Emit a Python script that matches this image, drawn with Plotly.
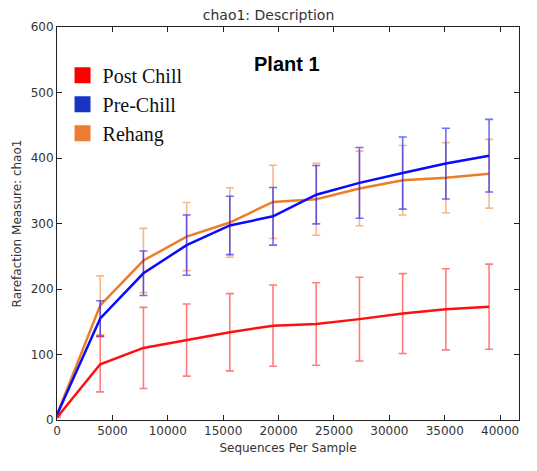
import plotly.graph_objects as go
import math

depth = [0, 3900, 7800, 11700, 15600, 19500, 23400, 27300, 31200, 35100, 39000]

post_chill = [4, 85, 110, 122, 134, 144, 146.5, 154, 162.5, 169, 173]
post_chill_err = [math.nan, 42, 62, 55, 59, 62, 63, 64, 61, 62, 65]

pre_chill = [8, 155, 224, 267, 297, 311, 344, 362, 377, 391.5, 403.5]
pre_chill_err = [math.nan, 27, 34, 46, 44.5, 44, 44.5, 54, 55, 54, 55.5]

rehang = [8, 175, 243.5, 280, 301.5, 333, 337, 353.5, 366, 370, 376]
rehang_err = [math.nan, 45, 49, 52, 53, 56, 55, 57, 53, 53.5, 52.5]

x_ticks = [0, 5000, 10000, 15000, 20000, 25000, 30000, 35000, 40000]
x_ticktext = [str(v) for v in x_ticks]
y_ticks = [0, 100, 200, 300, 400, 500, 600]

series = [
    ("Rehang", rehang, rehang_err, "#ee7d28", "rgba(238,125,40,0.55)"),
    ("Pre-Chill", pre_chill, pre_chill_err, "#0a0aff", "rgba(10,10,255,0.6)"),
    ("Post Chill", post_chill, post_chill_err, "#ff1010", "rgba(255,16,16,0.55)"),
]
legend_colors = {"Post Chill": "#ff0000", "Pre-Chill": "#1a35c4", "Rehang": "#ed7d31"}

fig = go.Figure()
for name, ys, errs, lc, ec in series:
    fig.add_trace(go.Scatter(
        x=depth, y=ys, mode="lines", name=name, showlegend=False,
        line=dict(color=lc, width=2.5),
        error_y=dict(type="data", array=errs, visible=True, color=ec,
                     thickness=1.6, width=4),
    ))

for name in ["Post Chill", "Pre-Chill", "Rehang"]:
    fig.add_trace(go.Scatter(
        x=[None], y=[None], mode="markers", name=name,
        marker=dict(symbol="square", size=16, color=legend_colors[name]),
    ))

axis_common = dict(
    showgrid=False, zeroline=False, showline=True, linecolor="#222",
    linewidth=1, mirror="ticks", ticks="inside", ticklen=5,
    tickcolor="#222", tickfont=dict(family="DejaVu Sans", size=12, color="#333"),
)

fig.update_layout(
    width=537, height=471,
    margin=dict(l=57, r=18, t=27, b=51),
    paper_bgcolor="white", plot_bgcolor="white",
    title=dict(text="chao1: Description", x=0.5, xanchor="center",
               y=1 - 15 / 471, yanchor="middle",
               font=dict(family="DejaVu Sans", size=14, color="#333")),
    xaxis=dict(range=[0, 41700], tickvals=x_ticks, ticktext=x_ticktext,
               title=dict(text="Sequences Per Sample", standoff=6,
                          font=dict(family="DejaVu Sans", size=12, color="#333")),
               **axis_common),
    yaxis=dict(range=[0, 600], tickvals=y_ticks,
               title=dict(text="Rarefaction Measure: chao1", standoff=6,
                          font=dict(family="DejaVu Sans", size=12, color="#333")),
               **axis_common),
    legend=dict(x=0.012, y=0.927, xanchor="left", yanchor="top",
                bgcolor="rgba(0,0,0,0)", tracegroupgap=0,
                font=dict(family="Liberation Serif", size=20, color="#111")),
    annotations=[dict(text="<b>Plant 1</b>", xref="paper", yref="paper",
                      x=0.498, y=0.907, xanchor="center", yanchor="middle",
                      showarrow=False,
                      font=dict(family="Liberation Sans", size=20, color="#000"))],
)

fig.write_html("out.html")
